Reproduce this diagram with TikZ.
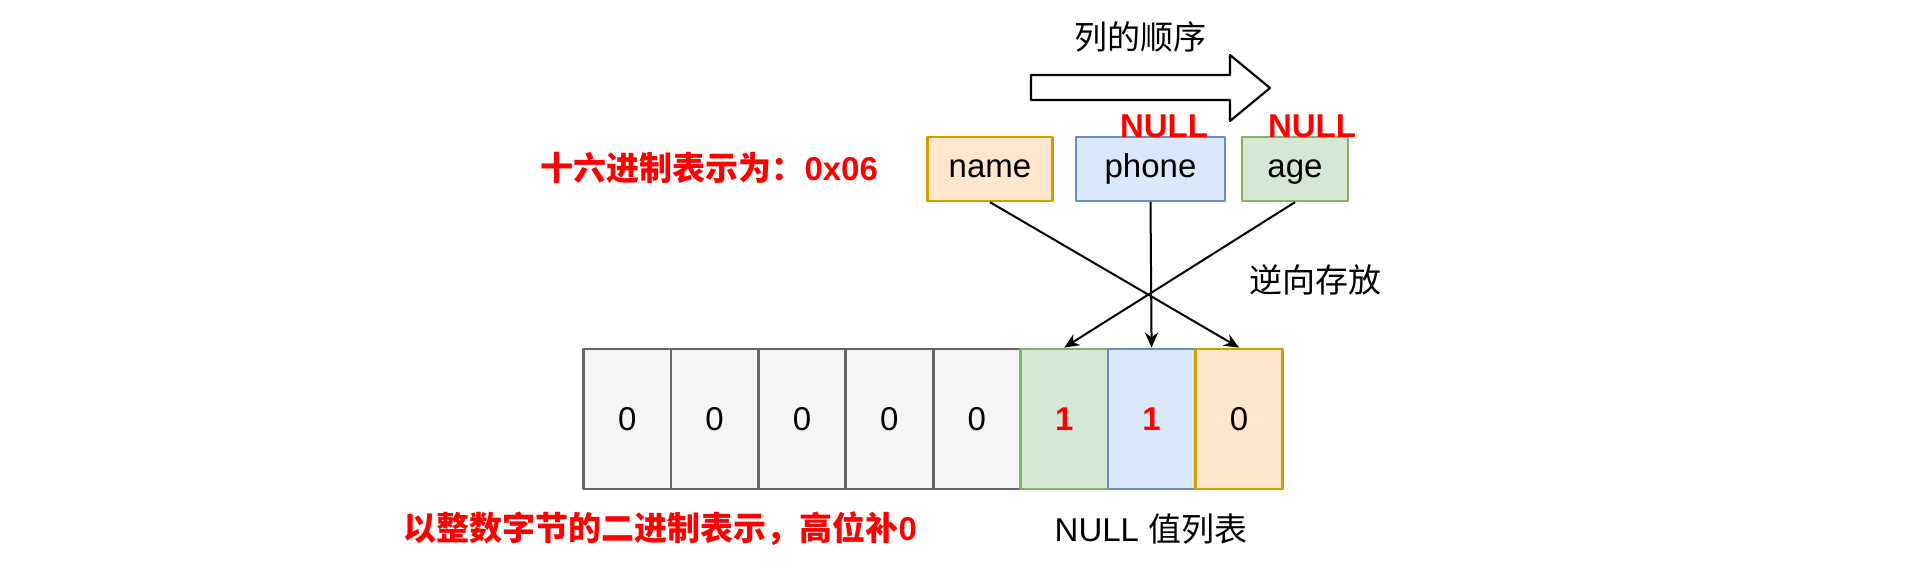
\documentclass[tikz,border=0pt]{standalone}
\usepackage{fontspec}
\setmainfont{Liberation Sans}
\newfontfamily\cjk{Noto Sans CJK SC}
\usetikzlibrary{arrows.meta}
\definecolor{orangefill}{HTML}{FFE6CC}
\definecolor{orangeline}{HTML}{D79B00}
\definecolor{bluefill}{HTML}{DAE8FC}
\definecolor{blueline}{HTML}{6C8EBF}
\definecolor{greenfill}{HTML}{D5E8D4}
\definecolor{greenline}{HTML}{82B366}
\definecolor{grayfill}{HTML}{F5F5F5}
\definecolor{grayline}{HTML}{666666}
\definecolor{notered}{HTML}{FF0000}
\begin{document}
\begin{tikzpicture}[x=1pt,y=-1pt,line join=round,
  font=\fontsize{33}{40}\selectfont,
  field/.style={draw=#1line,fill=#1fill,line width=2.4pt,minimum height=64pt,inner sep=0pt,
    text height=24pt,text depth=7pt},
  bit/.style={draw=#1line,fill=#1fill,line width=2.8pt,minimum width=87.4pt,
    minimum height=140pt,inner sep=0pt},
  plain/.style={},
  note/.style={text=notered,font=\fontsize{33}{40}\selectfont\bfseries},
  flow/.style={-{Stealth[length=15pt,width=13pt]},line width=2pt}]
  \useasboundingbox (0,0) rectangle (1906,568);
  % column order arrow
  \node (order) at (1140,37) {\cjk 列的顺序};
  \draw[line width=2.2pt,fill=white]
    (1031,75) -- (1230,75) -- (1230,55) -- (1270,88) -- (1230,121)
    -- (1230,100) -- (1031,100) -- cycle;
  % nullable columns
  \foreach \col/\cx/\boxw/\tone in {name/990/125/orange,phone/1150.5/149/blue,age/1295/106/green}
    \node[field=\tone,minimum width=\boxw pt] (\col) at (\cx,169) {\col};
  \node[note,anchor=base] (phonenull) at (1164,137) {NULL};
  \node[note,anchor=base] (agenull) at (1312,137) {NULL};
  \node[note,anchor=west] (hexnote) at (537,168) {{\cjk 十六进制表示为：}0x06};
  % bit cells
  \foreach \i/\val/\tone/\look in {1/0/gray/plain,2/0/gray/plain,3/0/gray/plain,
    4/0/gray/plain,5/0/gray/plain,6/1/green/note,7/1/blue/note,8/0/orange/plain}
    \node[bit=\tone,\look] (b\i) at ({583.5+87.4*(\i-0.5)},419) {\val};
  \draw[flow] (name.south) -- (b8.north);
  \draw[flow] (phone.south) -- (b7.north);
  \draw[flow] (age.south) -- (b6.north);
  \node (reverse) at (1315,280) {\cjk 逆向存放};
  \node[note,anchor=west] (padnote) at (400,529) {{\cjk 以整数字节的二进制表示，高位补}0};
  \node (nulllist) at (1151,529) {NULL {\cjk 值列表}};
\end{tikzpicture}
\end{document}
